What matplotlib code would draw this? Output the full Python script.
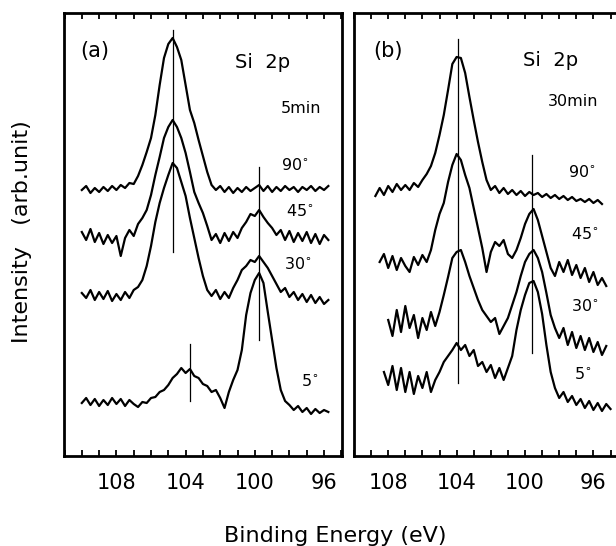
"""
Si 2p XPS spectra, (a) 5min and (b) 30min, at several take-off angles
"""
import numpy as np
import matplotlib
matplotlib.use('Agg')
import matplotlib.pyplot as plt
from matplotlib.ticker import MultipleLocator

nan = np.nan

# binding energy grids (eV)
ev_a = [110.0, 109.75, 109.5, 109.25, 109.0, 108.75, 108.5, 108.25, 108.0, 107.75,
        107.5, 107.25, 107.0, 106.75, 106.5, 106.25, 106.0, 105.75, 105.5, 105.25,
        105.0, 104.75, 104.5, 104.25, 104.0, 103.75, 103.5, 103.25, 103.0, 102.75,
        102.5, 102.25, 102.0, 101.75, 101.5, 101.25, 101.0, 100.75, 100.5, 100.25,
        100.0, 99.75, 99.5, 99.25, 99.0, 98.75, 98.5, 98.25, 98.0, 97.75,
        97.5, 97.25, 97.0, 96.75, 96.5, 96.25, 96.0, 95.75]
ev_b = [109.0, 108.75, 108.5, 108.25, 108.0, 107.75, 107.5, 107.25, 107.0, 106.75,
        106.5, 106.25, 106.0, 105.75, 105.5, 105.25, 105.0, 104.75, 104.5, 104.25,
        104.0, 103.75, 103.5, 103.25, 103.0, 102.75, 102.5, 102.25, 102.0, 101.75,
        101.5, 101.25, 101.0, 100.75, 100.5, 100.25, 100.0, 99.75, 99.5, 99.25,
        99.0, 98.75, 98.5, 98.25, 98.0, 97.75, 97.5, 97.25, 97.0, 96.75,
        96.5, 96.25, 96.0, 95.75, 95.5, 95.25, 95.0]

# (a) 5min, intensity (arb. unit, offset stacked)
a_90 = [310, 314, 307, 312, 308, 313, 309, 314, 310, 315, 312, 317, 316, 324, 335, 348,
        362, 385, 415, 442, 456, 462, 453, 440, 415, 390, 377, 360, 344, 328, 315, 310,
        314, 308, 313, 307, 312, 308, 313, 309, 312, 315, 309, 314, 308, 313, 309, 314,
        310, 313, 308, 313, 310, 314, 309, 313, 310, 314]
a_45 = [268, 260, 271, 258, 267, 256, 265, 257, 264, 244, 262, 270, 264, 276, 282, 290,
        305, 325, 343, 362, 373, 380, 373, 362, 347, 328, 308, 297, 287, 274, 260, 266,
        257, 267, 259, 268, 262, 272, 278, 286, 284, 290, 283, 277, 272, 265, 270, 260,
        269, 258, 267, 259, 268, 257, 266, 256, 265, 260]
a_30 = [207, 202, 210, 200, 208, 201, 209, 199, 206, 200, 208, 202, 210, 213, 220, 234,
        254, 278, 297, 312, 325, 337, 332, 318, 304, 282, 262, 242, 224, 210, 204, 210,
        201, 208, 202, 212, 220, 230, 234, 240, 238, 244, 238, 232, 224, 216, 208, 212,
        203, 208, 200, 206, 198, 205, 197, 203, 196, 200]
a_5 = [97, 102, 95, 101, 94, 100, 95, 102, 96, 101, 94, 100, 96, 93, 98, 97,
       102, 103, 108, 110, 115, 122, 126, 132, 127, 131, 124, 122, 116, 114, 108, 110,
       102, 92, 108, 120, 130, 150, 185, 207, 220, 227, 217, 188, 160, 132, 110, 99,
       95, 90, 94, 88, 92, 86, 91, 87, 90, 88]

# (b) 30min
b_90 = [nan, 304, 312, 305, 314, 308, 316, 310, 315, 310, 317, 313, 320, 326, 334, 347,
        365, 385, 410, 436, 443, 442, 427, 403, 380, 358, 338, 320, 310, 314, 307, 312,
        306, 310, 305, 309, 304, 308, 305, 307, 303, 306, 302, 305, 301, 304, 300, 303,
        299, 301, 298, 301, 297, 300, 296, nan, nan]
b_45 = [nan, nan, 238, 246, 232, 244, 230, 242, 234, 228, 243, 235, 245, 238, 250, 270,
        286, 297, 318, 335, 346, 340, 325, 312, 292, 272, 252, 228, 248, 258, 254, 260,
        246, 242, 250, 262, 276, 286, 291, 280, 264, 248, 232, 224, 238, 228, 240, 225,
        235, 222, 232, 218, 228, 215, 222, 214, nan]
b_30 = [nan, nan, nan, nan, 180, 164, 190, 168, 194, 172, 185, 162, 182, 170, 188, 174,
        188, 205, 223, 242, 248, 250, 238, 224, 212, 200, 190, 184, 178, 182, 166, 174,
        182, 195, 208, 224, 238, 246, 250, 242, 228, 207, 185, 172, 162, 172, 155, 168,
        152, 164, 150, 162, 148, 158, 145, 154, nan]
b_5 = [nan, nan, nan, 128, 115, 134, 110, 132, 108, 128, 106, 124, 112, 128, 108, 120,
       128, 138, 144, 150, 157, 150, 155, 144, 150, 134, 138, 128, 135, 122, 132, 120,
       132, 144, 170, 190, 205, 217, 219, 208, 186, 155, 128, 112, 102, 108, 98, 104,
       95, 101, 92, 99, 90, 97, 89, 96, 91]

# peak marker lines: energy, lower, upper
marks_a = [(104.72, 248, 470), (99.75, 160, 333), (103.75, 99, 156)]
marks_b = [(103.9, 117, 461), (99.57, 147, 345)]

labels_a = [('5min', 97.33, 392), ('90$^{\\circ}$', 97.68, 335), ('45$^{\\circ}$', 97.39, 289),
            ('30$^{\\circ}$', 97.5, 236), ('5$^{\\circ}$', 96.81, 119)]
labels_b = [('30min', 97.2, 399), ('90$^{\\circ}$', 96.67, 328), ('45$^{\\circ}$', 96.5, 266),
            ('30$^{\\circ}$', 96.5, 194), ('5$^{\\circ}$', 96.61, 126)]

fig = plt.figure(figsize=(6.16, 5.46), dpi=100)
ax_a = fig.add_axes([64 / 616, 90 / 546, 278 / 616, 443 / 546])
ax_b = fig.add_axes([354 / 616, 90 / 546, 268.5 / 616, 443 / 546])


def draw_panel(ax, ev, curves, marks, labels, tag, tag_x, xlim):
    for c in curves:
        ax.plot(ev, c, 'k-', lw=1.6)
    for e, lo, hi in marks:
        ax.plot([e, e], [lo, hi], 'k-', lw=0.9)
    for s, e, h in labels:
        ax.text(e, h, s, fontsize=11.5, ha='center', va='center')
    ax.text(tag_x, 449, tag, fontsize=15, ha='left', va='center')
    ax.set_xlim(xlim)
    ax.set_ylim(44, 487)
    ax.set_xticks([108, 104, 100, 96])
    ax.xaxis.set_minor_locator(MultipleLocator(1))
    ax.set_yticks([])
    ax.tick_params(axis='x', which='both', direction='in', top=True, length=4,
                   width=1.3, labelsize=15, pad=12)
    for sp in ax.spines.values():
        sp.set_linewidth(2.0)


draw_panel(ax_a, ev_a, [a_90, a_45, a_30, a_5], marks_a, labels_a, '(a)', 110.1, (111.03, 94.96))
draw_panel(ax_b, ev_b, [b_90, b_45, b_30, b_5], marks_b, labels_b, '(b)', 108.9, (110.0, 94.3))
ax_a.text(99.53, 438, 'Si  2p', fontsize=14, ha='center', va='center')
ax_b.text(98.49, 440, 'Si  2p', fontsize=14, ha='center', va='center')

fig.text(335 / 616, 4 / 546, 'Binding Energy (eV)', fontsize=16, ha='center', va='baseline')
fig.text(22 / 616, 314 / 546, 'Intensity   (arb.unit)', fontsize=16, rotation=90,
         ha='center', va='center')

plt.savefig('out.png', dpi=100)
